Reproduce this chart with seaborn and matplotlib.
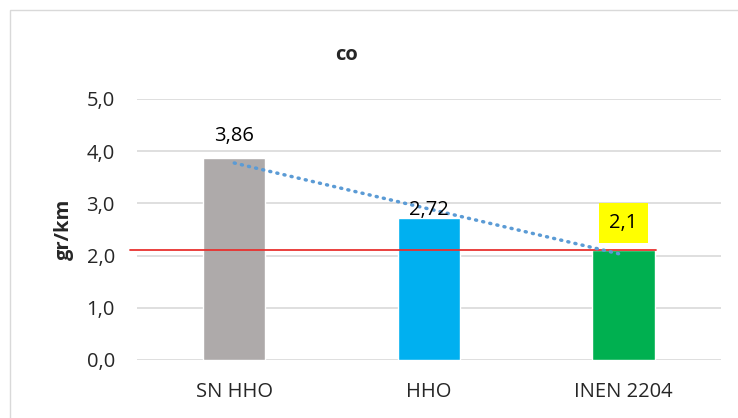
import numpy as np
import pandas as pd
import matplotlib
matplotlib.use("Agg")
import matplotlib.pyplot as plt
import seaborn as sns
from matplotlib.patches import Rectangle

# data
categories = ["SN HHO", "HHO", "INEN 2204"]
values = [3.86, 2.72, 2.1]
limit = 2.1
bar_colors = ["#AEAAAA", "#00B0F0", "#00B050"]
label_text = ["3,86", "2,72", "2,1"]
yticks = [0, 1, 2, 3, 4, 5]

sns.set_style("white")
plt.rcParams["font.family"] = ["Open Sans", "DejaVu Sans"]
FS = 14.5

df = pd.DataFrame({"cat": categories, "val": values})

fig = plt.figure(figsize=(7.38, 4.18), dpi=100)
ax = fig.add_axes([0.1856, 0.1388, 0.7912, 0.6244])

sns.barplot(data=df, x="cat", y="val", hue="cat", palette=bar_colors,
            saturation=1, width=0.32, legend=False, ax=ax, zorder=3)

# limit line (red)
ax.plot([-0.536, 2.166], [limit, limit], color="#E8312F", lw=1.3, zorder=4,
        clip_on=False)

# linear trendline
xs = np.arange(len(values))
k, b = np.polyfit(xs, values, 1)
ax.plot(xs, k * xs + b, color="#5B9BD5", lw=2.5,
        linestyle=(0, (0.3, 1.8)), dash_capstyle="round", zorder=5)

# data labels
offsets = [16.5, 5.5, 19.5]
for i, (v, t, off) in enumerate(zip(values, label_text, offsets)):
    bbox = None
    if i == 2:
        bbox = dict(boxstyle="square,pad=0.5", fc="#FFFF00", ec="none")
    ax.annotate(t, (i, v), xytext=(0, off), textcoords="offset points",
                ha="center", va="center", fontsize=FS, color="#000000",
                bbox=bbox, zorder=6)

ax.set_ylim(0, 5)
ax.set_xlim(-0.5, 2.5)
ax.set_yticks(yticks)
ax.set_yticklabels([f"{v},0" for v in yticks])
ax.grid(axis="y", color="#D9D9D9", lw=1.2, zorder=0)
for s in ax.spines.values():
    s.set_visible(False)
ax.tick_params(axis="both", length=0, labelsize=FS, colors="#262626")
ax.tick_params(axis="y", pad=16)
ax.tick_params(axis="x", pad=16)
ax.set_xlabel("")
ax.set_ylabel("gr/km", fontsize=FS, fontweight="bold")
ax.yaxis.set_label_coords(-0.108, 0.5)

fig.text(0.469, 0.868, "co", ha="center", va="center", fontsize=FS,
         fontweight="bold")

# chart-area frame (only top and left visible in the crop)
fig.patches.append(Rectangle((10 / 738, -0.1), 1.2, 1.1 - 10 / 418,
                             transform=fig.transFigure, fill=False,
                             ec="#D9D9D9", lw=1.0))

fig.savefig("out.png", dpi=100)
